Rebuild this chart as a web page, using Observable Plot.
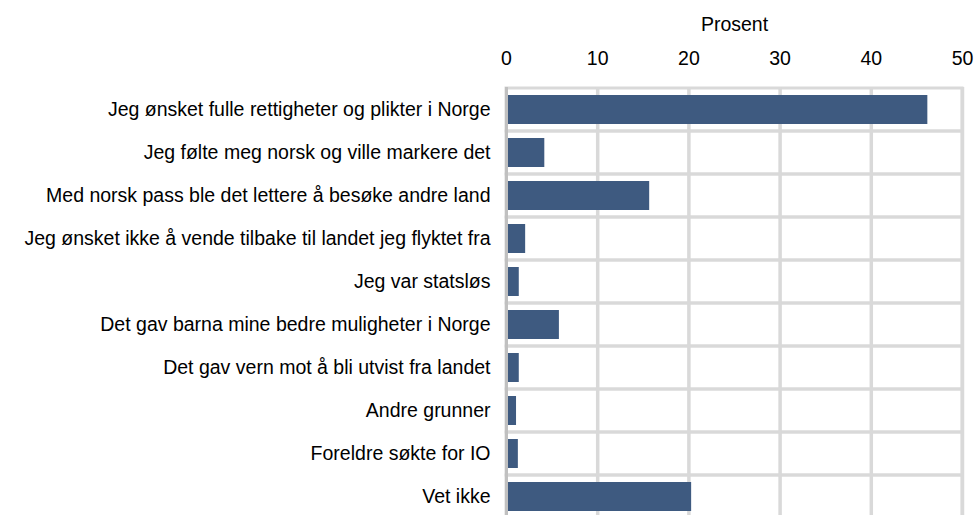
<!DOCTYPE html>
<html>
<head>
<meta charset="utf-8">
<script src="https://cdn.jsdelivr.net/npm/d3@7"></script>
<script src="https://cdn.jsdelivr.net/npm/@observablehq/plot@0.6"></script>
<style>
html, body { margin: 0; padding: 0; background: #fff; overflow: hidden; }
</style>
</head>
<body>
<div id="chart"></div>
<script>
const categories = [
  "Jeg ønsket fulle rettigheter og plikter i Norge",
  "Jeg følte meg norsk og ville markere det",
  "Med norsk pass ble det lettere å besøke andre land",
  "Jeg ønsket ikke å vende tilbake til landet jeg flyktet fra",
  "Jeg var statsløs",
  "Det gav barna mine bedre muligheter i Norge",
  "Det gav vern mot å bli utvist fra landet",
  "Andre grunner",
  "Foreldre søkte for IO",
  "Vet ikke"
];
const values = [46.2, 4.2, 15.7, 2.1, 1.4, 5.8, 1.4, 1.1, 1.3, 20.3];
const xTicks = [0, 10, 20, 30, 40, 50];
const gridTicks = [10, 20, 30, 40, 50];
const axisTitle = "Prosent";

const data = categories.map((c, i) => ({category: c, value: values[i]}));

const chart = Plot.plot({
  width: 980,
  height: 520,
  marginTop: 87,
  marginLeft: 506,
  marginRight: 18,
  marginBottom: 1,
  style: {fontFamily: "'Liberation Sans', Arial, sans-serif", fontSize: "19.5px", color: "#000", background: "#fff"},
  x: {domain: [0, 50], axis: null},
  y: {domain: categories, padding: 0, axis: null},
  marks: [
    Plot.barX(categories, {y: d => d, x1: 0, x2: 50, fill: "none", stroke: "#d9d9d9", strokeWidth: 3}),
    Plot.ruleX(gridTicks, {stroke: "#d9d9d9", strokeWidth: 3.5}),
    Plot.barX(data, {y: "category", x1: 0, x2: "value", fill: "#3e5a80", insetTop: 7, insetBottom: 7}),
    Plot.ruleX([0], {stroke: "#c0c0c0", strokeWidth: 3}),
    Plot.axisX({anchor: "top", ticks: xTicks, tickSize: 0, tickPadding: 23, label: null, fontSize: 19.5, fill: "#000"}),
    Plot.axisY({tickSize: 0, tickPadding: 16, label: null, fontSize: 19.5, fill: "#000"}),
    Plot.text([axisTitle], {frameAnchor: "top", dy: -70, fontSize: 19.5, fill: "#000"})
  ]
});
document.getElementById("chart").appendChild(chart);
</script>
</body>
</html>
